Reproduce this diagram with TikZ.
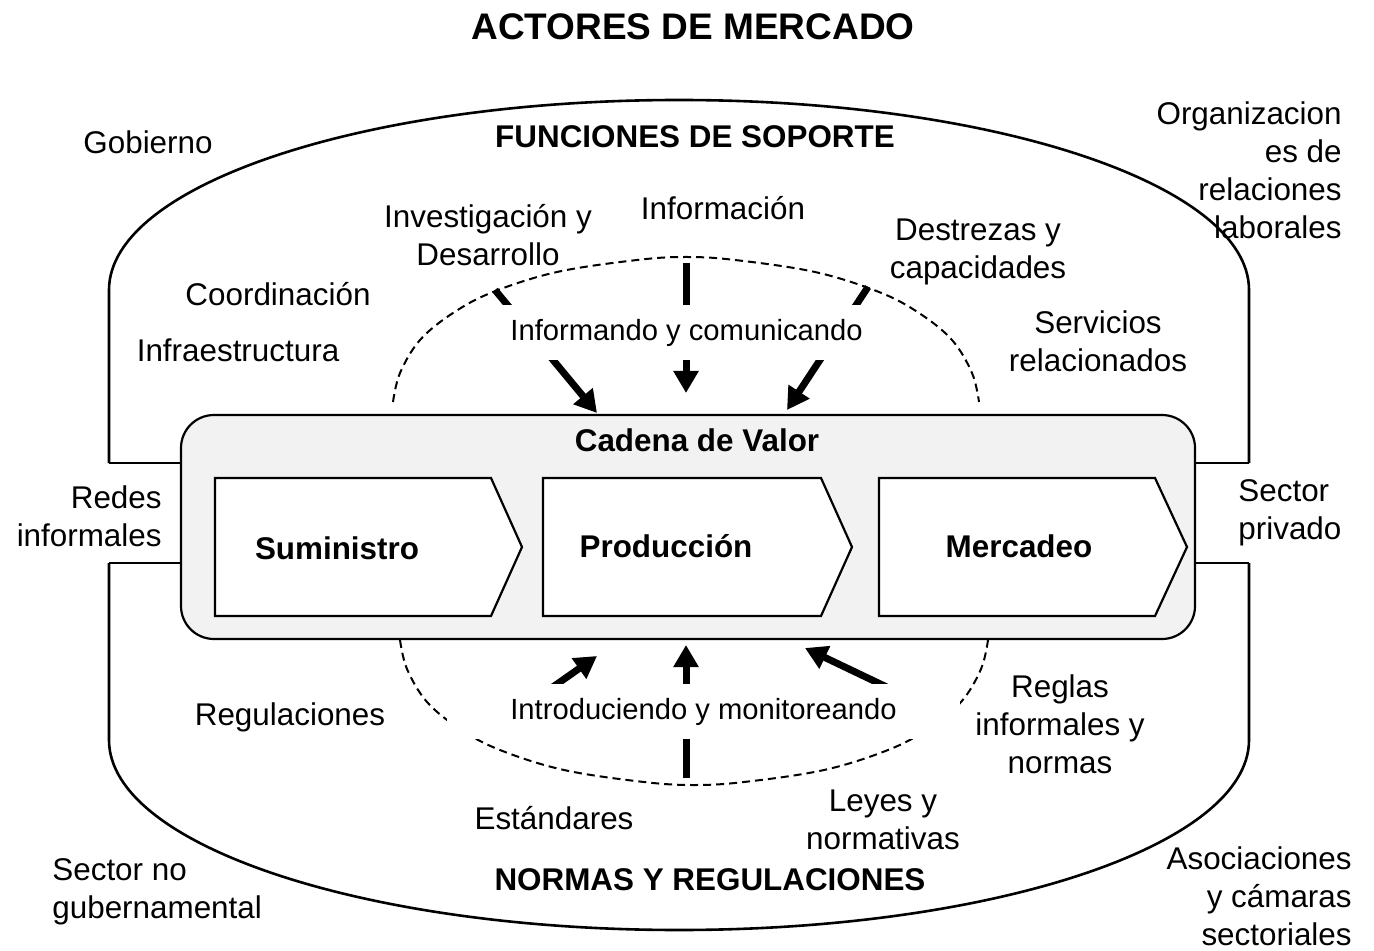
\documentclass[tikz,border=0pt]{standalone}
\usepackage{fontspec}
\setmainfont{Liberation Sans}
\usetikzlibrary{arrows.meta}
\definecolor{boxgray}{HTML}{F2F2F2}
\begin{document}
\begin{tikzpicture}[x=0.5pt,y=-0.5pt,
  txt/.style={font=\fontsize{15.7pt}{19pt}\selectfont, inner sep=0pt, align=center},
  txtl/.style={txt, align=left, anchor=west},
  txtr/.style={txt, align=right, anchor=east},
  hdr/.style={font=\fontsize{15.7pt}{19pt}\selectfont\bfseries, inner sep=0pt},
  covlabel/.style={font=\fontsize{14.6pt}{17pt}\selectfont, inner sep=0pt, fill=white},
  outerline/.style={line width=1.3pt},
  dashline/.style={line width=1pt, dash pattern=on 4pt off 2.5pt},
  chev/.style={line width=1.1pt, fill=white},
  bigarrow/.style={line width=3.5pt, -{Triangle[length=11pt,width=12pt]}}
]
\useasboundingbox (0,0) rectangle (1374,951);

% title
\node[font=\fontsize{18.5pt}{22pt}\selectfont\bfseries, inner sep=0pt] (title) at (693,27) {ACTORES DE MERCADO};

% outer shapes
\coordinate (tl) at (109,463);
\coordinate (tr) at (1249,463);
\coordinate (bl) at (109,563);
\coordinate (br) at (1249,563);
\draw[outerline] (tl) -- (109,290) .. controls (109,185) and (364,100) .. (679,100)
  .. controls (994,100) and (1249,185) .. (1249,290) -- (tr);
\draw[outerline] (bl) -- (109,740) .. controls (109,845) and (364,930) .. (679,930)
  .. controls (994,930) and (1249,845) .. (1249,740) -- (br);

% value chain box
\node[draw, line width=1.1pt, rounded corners=16.5pt, fill=boxgray, minimum width=507pt, minimum height=112pt, inner sep=0pt] (cadena) at (688,527) {};
\draw[outerline] (tl) -- (tl -| cadena.west);
\draw[outerline] (bl) -- (bl -| cadena.west);
\draw[outerline] (tr) -- (tr -| cadena.east);
\draw[outerline] (br) -- (br -| cadena.east);
\node[hdr] (cadlabel) at (697,440) {Cadena de Valor};

% chevrons
\draw[chev] (215,478) -- (491,478) -- (522,547) -- (491,616) -- (215,616) -- cycle;
\draw[chev] (543,478) -- (821,478) -- (852,547) -- (821,616) -- (543,616) -- cycle;
\draw[chev] (879,478) -- (1155,478) -- (1187,547) -- (1155,616) -- (879,616) -- cycle;
\node[hdr] (sum) at (337,548) {Suministro};
\node[hdr] (prod) at (666,546) {Producción};
\node[hdr] (merc) at (1019,546) {Mercadeo};

% dashed arcs
\draw[dashline] plot[smooth, tension=0.6] coordinates {(393,402) (400,373) (420,340) (453,313) (493,292) (557,272) (637,260) (686,257) (735,260) (815,272) (879,292) (919,313) (952,340) (972,373) (979,402)};
\draw[dashline] plot[smooth, tension=0.6] coordinates {(400,640) (407,669) (427,702) (460,729) (500,750) (564,770) (644,782) (694,785) (744,782) (824,770) (888,750) (928,729) (961,702) (981,669) (988,640)};

% arrows
\coordinate (a1s) at (495,290);
\coordinate (a1e) at (597,413);
\coordinate (a2s) at (686,263);
\coordinate (a2e) at (686,393);
\coordinate (a3s) at (868,287);
\coordinate (a3e) at (787,410);
\draw[bigarrow] (a1s) -- (a1e);
\draw[bigarrow] (a2s) -- (a2e);
\draw[bigarrow] (a3s) -- (a3e);
\coordinate (b1s) at (540,696);
\coordinate (b1e) at (597,656);
\coordinate (b2s) at (686,778);
\coordinate (b2e) at (686,645);
\coordinate (b3s) at (895,691);
\coordinate (b3e) at (805,648);
\draw[bigarrow] (b1s) -- (b1e);
\draw[bigarrow] (b2s) -- (b2e);
\draw[bigarrow] (b3s) -- (b3e);

% covering labels
\node[covlabel, minimum width=206.5pt, minimum height=27.5pt] (inform) at (686.5,333) {Informando y comunicando};
\node[covlabel, minimum width=256.5pt, minimum height=27.5pt] (intro) at (703.5,711.5) {Introduciendo y monitoreando};

% headers
\node[hdr] (funciones) at (695,137) {FUNCIONES DE SOPORTE};
\node[hdr] (normas) at (710,880) {NORMAS Y REGULACIONES};

% support functions
\node[txt] (gob) at (148,142) {Gobierno};
\node[txtr] (org) at (1342,170.5) {Organizacion\\es de\\relaciones\\laborales};
\node[txt] (invest) at (488,235.5) {Investigación y\\Desarrollo};
\node[txt] (info) at (723,208) {Información};
\node[txt] (destr) at (978,251.5) {Destrezas y\\capacidades};
\node[txt] (coord) at (278,294) {Coordinación};
\node[txt] (infra) at (238,350) {Infraestructura};
\node[txt] (serv) at (1098,341) {Servicios\\relacionados};

% sides
\node[txtr] (redes) at (162,516.5) {Redes\\informales};
\node[txtl] (privado) at (1238,512.5) {Sector\\privado};

% rules
\node[txt] (regul) at (290,717) {Regulaciones};
\node[txt] (reglas) at (1060,724.5) {Reglas\\informales y\\normas};
\node[txt] (estand) at (554,818) {Estándares};
\node[txt] (leyes) at (883,820) {Leyes y\\normativas};
\node[txtl] (nogub) at (52,892) {Sector no\\gubernamental};
\node[txtr] (asoc) at (1352,896) {Asociaciones\\y cámaras\\sectoriales};
\end{tikzpicture}
\end{document}
